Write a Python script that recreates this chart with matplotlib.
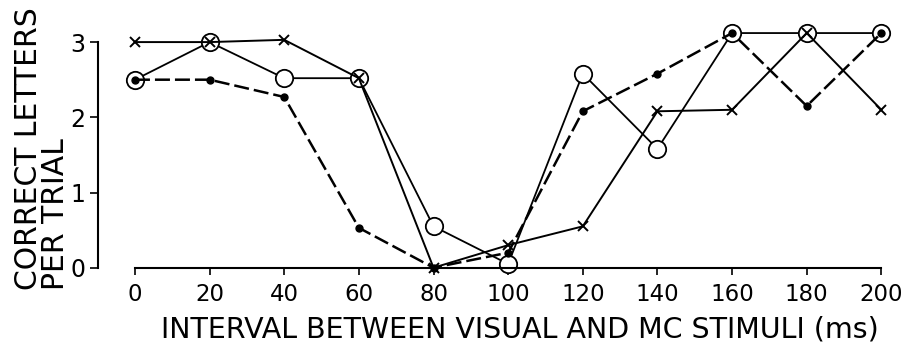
import matplotlib
matplotlib.use("Agg")
import matplotlib.pyplot as plt

# interval between visual and MC stimuli (ms)
intervals = [0, 20, 40, 60, 80, 100, 120, 140, 160, 180, 200]

# correct letters per trial, three subjects
cross_vals = [3.0, 3.0, 3.03, 2.52, 0.0, 0.3, 0.55, 2.08, 2.1, 3.12, 2.1]
circle_vals = [2.5, 3.0, 2.52, 2.52, 0.55, 0.05, 2.58, 1.58, 3.12, 3.12, 3.12]
dot_vals = [2.5, 2.5, 2.27, 0.53, 0.0, 0.2, 2.08, 2.58, 3.12, 2.15, 3.12]

x_ticks = [0, 20, 40, 60, 80, 100, 120, 140, 160, 180, 200]
x_ticklabels = ["0", "20", "40", "60", "80", "100", "120", "140", "160", "180", "200"]
y_ticks = [0, 1, 2, 3]
y_ticklabels = ["0", "1", "2", "3"]

plt.rcParams['font.family'] = ['DejaVu Sans']

fig = plt.figure(figsize=(9.05, 3.45), dpi=100)
ax = fig.add_axes([98 / 905, 66 / 345, 802 / 905, 267 / 345])

ax.plot(intervals, circle_vals, color='black', lw=1.3, zorder=2,
        marker='o', ms=12.5, mfc='white', mec='black', mew=1.3)
ax.plot(intervals, dot_vals, color='black', lw=1.8, ls=(0, (6, 2)), zorder=3,
        marker='o', ms=5, mfc='black', mec='black')
ax.plot(intervals, cross_vals, color='black', lw=1.4, zorder=4,
        marker='x', ms=7, mew=1.4)

ax.set_xlim(-9.9, 205)
ax.set_ylim(-0.15, 3.4)

for s in ['top', 'right']:
    ax.spines[s].set_visible(False)
ax.spines['left'].set_bounds(0, 3)
ax.spines['bottom'].set_position(('data', 0))
ax.spines['bottom'].set_bounds(0, 200)
ax.spines['left'].set_linewidth(1.5)
ax.spines['bottom'].set_linewidth(1.5)

ax.set_xticks(x_ticks)
ax.set_xticklabels(x_ticklabels)
ax.set_yticks(y_ticks)
ax.set_yticklabels(y_ticklabels)
ax.tick_params(axis='x', direction='out', length=5, width=1.2, labelsize=16.5, pad=6)
ax.tick_params(axis='y', direction='out', length=6, width=1.2, labelsize=17, pad=3)

ax.set_xlabel("INTERVAL BETWEEN VISUAL AND MC STIMULI (ms)", fontsize=20.5)
ax.xaxis.set_label_coords((520 - 98) / 802, -0.135)
fig.text(0.015, 0.57, "CORRECT LETTERS\nPER TRIAL", rotation=90, fontsize=21.5,
         ha='left', va='center', linespacing=0.95)

fig.savefig("out.png", dpi=100)
